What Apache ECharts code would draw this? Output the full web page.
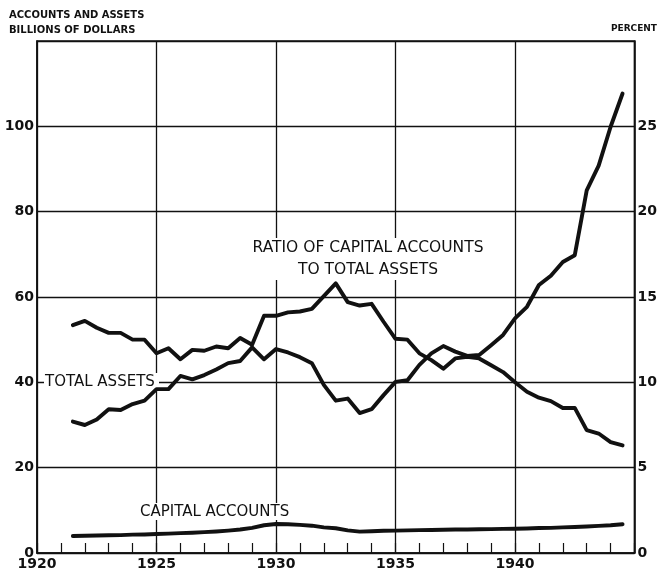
<!DOCTYPE html>
<html>
<head>
<meta charset="utf-8">
<script src="https://cdn.jsdelivr.net/npm/echarts@6/dist/echarts.min.js"></script>
<style>
html,body{margin:0;padding:0;background:#fff;}
#chart{width:660px;height:573px;}
</style>
</head>
<body>
<div id="chart"></div>
<script>
// Semiannual call dates (June / December)
const dates = [1921.5, 1922, 1922.5, 1923, 1923.5, 1924, 1924.5, 1925, 1925.5, 1926, 1926.5,
  1927, 1927.5, 1928, 1928.5, 1929, 1929.5, 1930, 1930.5, 1931, 1931.5, 1932, 1932.5,
  1933, 1933.5, 1934, 1934.5, 1935, 1935.5, 1936, 1936.5, 1937, 1937.5, 1938, 1938.5,
  1939, 1939.5, 1940, 1940.5, 1941, 1941.5, 1942, 1942.5, 1943, 1943.5, 1944, 1944.5];

// Billions of dollars
const totalAssets = [30.8, 30.0, 31.3, 33.7, 33.5, 34.9, 35.7, 38.4, 38.4, 41.5, 40.7,
  41.7, 43.0, 44.5, 45.0, 48.2, 45.4, 47.8, 47.0, 45.9, 44.5, 39.4, 35.7,
  36.2, 32.8, 33.7, 37.0, 40.1, 40.5, 44.1, 46.8, 48.5, 47.2, 46.2, 46.4,
  48.7, 51.1, 55.0, 57.7, 62.8, 65.0, 68.2, 69.8, 85.0, 90.8, 99.9, 107.7];

const capitalAccounts = [4.0, 4.05, 4.1, 4.15, 4.2, 4.3, 4.35, 4.45, 4.55, 4.65, 4.75,
  4.9, 5.05, 5.25, 5.5, 5.9, 6.5, 6.8, 6.75, 6.6, 6.4, 6.0, 5.8,
  5.3, 5.0, 5.1, 5.2, 5.25, 5.3, 5.35, 5.4, 5.45, 5.5, 5.5, 5.55,
  5.6, 5.65, 5.7, 5.75, 5.85, 5.9, 6.0, 6.1, 6.2, 6.35, 6.5, 6.75];

// Percent
const ratioPct = [13.35, 13.6, 13.2, 12.9, 12.9, 12.5, 12.5, 11.7, 12.0, 11.35, 11.9,
  11.85, 12.1, 12.0, 12.6, 12.2, 13.9, 13.9, 14.1, 14.15, 14.3, 15.05, 15.8,
  14.7, 14.5, 14.6, 13.55, 12.55, 12.5, 11.7, 11.3, 10.8, 11.4, 11.5, 11.4,
  11.0, 10.6, 10.0, 9.45, 9.1, 8.9, 8.5, 8.5, 7.2, 7.0, 6.5, 6.3];

const xTickLabels = [1920, 1925, 1930, 1935, 1940];
const leftTickLabels = [0, 20, 40, 60, 80, 100];
const rightTickLabels = [0, 5, 10, 15, 20, 25];

const FONT = 'DejaVu Sans';
const INK = '#111';

const chart = echarts.init(document.getElementById('chart'), null, {renderer: 'canvas'});

function pairs(vals) { return dates.map((d, i) => [d, vals[i]]); }

const lineStyle = {color: INK, width: 3.9, cap: 'round', join: 'round'};

chart.setOption({
  animation: false,
  backgroundColor: '#fff',
  grid: {left: 37, right: 24, top: 41, bottom: 20, show: true, borderColor: INK, borderWidth: 1.5, containLabel: false},
  xAxis: {
    type: 'value', min: 1920, max: 1945, interval: 5,
    axisLine: {show: true, lineStyle: {color: INK, width: 1.5}},
    axisTick: {show: true, inside: true, length: 10, lineStyle: {color: INK, width: 1.2}},
    minorTick: {show: true, splitNumber: 5, length: 10, lineStyle: {color: INK, width: 1.2}},
    splitLine: {show: true, lineStyle: {color: INK, width: 1.3}},
    axisLabel: {
      margin: 4, color: INK, fontFamily: FONT, fontSize: 14, fontWeight: 'bold',
      formatter: v => xTickLabels.indexOf(v) >= 0 ? String(v) : ''
    }
  },
  yAxis: [
    {
      type: 'value', min: 0, max: 120, interval: 20, position: 'left',
      axisLine: {show: true, lineStyle: {color: INK, width: 1.5}},
      axisTick: {show: false},
      splitLine: {show: true, lineStyle: {color: INK, width: 1.3}},
      axisLabel: {
        margin: 3, color: INK, fontFamily: FONT, fontSize: 14, fontWeight: 'bold',
        formatter: v => leftTickLabels.indexOf(v) >= 0 ? String(v) : ''
      }
    },
    {
      type: 'value', min: 0, max: 30, interval: 5, position: 'right',
      axisLine: {show: true, lineStyle: {color: INK, width: 1.5}},
      axisTick: {show: false},
      splitLine: {show: false},
      axisLabel: {
        margin: 3, color: INK, fontFamily: FONT, fontSize: 14, fontWeight: 'bold',
        formatter: v => rightTickLabels.indexOf(v) >= 0 ? String(v) : ''
      }
    }
  ],
  series: [
    {name: 'Total assets', type: 'line', yAxisIndex: 0, data: pairs(totalAssets),
     showSymbol: false, lineStyle: lineStyle, z: 5},
    {name: 'Capital accounts', type: 'line', yAxisIndex: 0, data: pairs(capitalAccounts),
     showSymbol: false, lineStyle: lineStyle, z: 5},
    {name: 'Ratio', type: 'line', yAxisIndex: 1, data: pairs(ratioPct),
     showSymbol: false, lineStyle: lineStyle, z: 5}
  ],
  graphic: [
    {type: 'text', left: 9, top: 10, style: {text: 'ACCOUNTS AND ASSETS', fill: INK, font: 'bold 10px "DejaVu Sans"'}},
    {type: 'text', left: 9, top: 25, style: {text: 'BILLIONS OF DOLLARS', fill: INK, font: 'bold 10px "DejaVu Sans"'}},
    {type: 'text', right: 3, top: 24, style: {text: 'PERCENT', fill: INK, font: 'bold 9px "DejaVu Sans"'}},
    {type: 'rect', shape: {x: 250, y: 238, width: 238, height: 42}, style: {fill: '#fff'}, z: 1},
    {type: 'text', x: 368, y: 248, z: 2, style: {text: 'RATIO OF CAPITAL ACCOUNTS', fill: INK, font: '15.5px "DejaVu Sans"', textAlign: 'center', textVerticalAlign: 'middle'}},
    {type: 'text', x: 368, y: 270, z: 2, style: {text: 'TO TOTAL ASSETS', fill: INK, font: '15.5px "DejaVu Sans"', textAlign: 'center', textVerticalAlign: 'middle'}},
    {type: 'rect', shape: {x: 44, y: 373, width: 115, height: 17}, style: {fill: '#fff'}, z: 1},
    {type: 'text', x: 45, y: 382, z: 2, style: {text: 'TOTAL ASSETS', fill: INK, font: '15px "DejaVu Sans"', textAlign: 'left', textVerticalAlign: 'middle'}},
    {type: 'rect', shape: {x: 138, y: 503, width: 154, height: 17}, style: {fill: '#fff'}, z: 1},
    {type: 'text', x: 140, y: 512, z: 2, style: {text: 'CAPITAL ACCOUNTS', fill: INK, font: '15px "DejaVu Sans"', textAlign: 'left', textVerticalAlign: 'middle'}}
  ]
});
</script>
</body>
</html>
